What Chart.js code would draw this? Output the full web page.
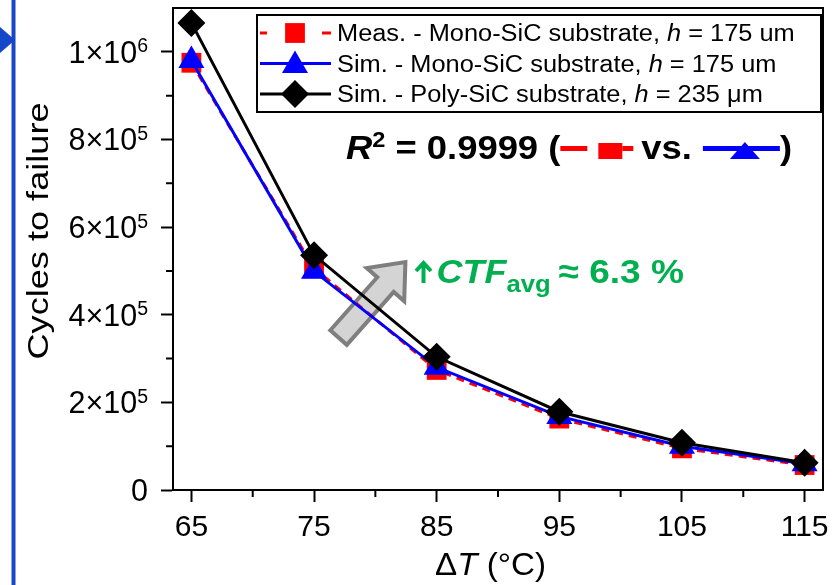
<!DOCTYPE html>
<html>
<head>
<meta charset="utf-8">
<script src="https://cdn.jsdelivr.net/npm/chart.js@4.4.1/dist/chart.umd.min.js"></script>
<style>
  html, body { margin: 0; padding: 0; background: #fff; }
  #wrap { width: 840px; height: 585px; }
</style>
</head>
<body>
<div id="wrap"><canvas id="ctfChart" width="840" height="585"></canvas></div>
<script>
// data
const deltaT = [65, 75, 85, 95, 105, 115];
const measMono = [975000, 506000, 274000, 163000, 95000, 57000];
const simMono = [980000, 499000, 280000, 168000, 100000, 60000];
const simPoly = [1066000, 536000, 304000, 178600, 108000, 62000];

const xTicks = [65, 75, 85, 95, 105, 115];
const xMinor = [70, 80, 90, 100, 110];
const yTicks = [0, 200000, 400000, 600000, 800000, 1000000];
const yTickMant = ['0', '2×10', '4×10', '6×10', '8×10', '1×10'];
const yTickExp = ['', '5', '5', '5', '5', '6'];
const yMinor = [100000, 300000, 500000, 700000, 900000];

const seriesNames = ['Meas. - Mono-SiC substrate, ', 'Sim. - Mono-SiC substrate, ', 'Sim. - Poly-SiC substrate, '];
const thickness = [' = 175 um', ' = 175 um', ' = 235 μm'];
const r2Value = '0.9999';
const ctfGain = '6.3 %';

const FONT = "'Liberation Sans', Arial, Helvetica, sans-serif";
const SX = 1.07; // the figure text is a bit wide
const RED = '#ff0000', BLUE = '#0000ff', BLACK = '#000000', GREEN = '#00b050';

// simple marker shapes for legend keys
function marker(ctx, kind, x, y, r, color) {
  ctx.save();
  ctx.fillStyle = color;
  ctx.beginPath();
  if (kind === 'rect') {
    const s = r * Math.SQRT1_2;
    ctx.rect(x - s, y - s, 2 * s, 2 * s);
  } else if (kind === 'triangle') {
    ctx.moveTo(x, y - r);
    ctx.lineTo(x + r * 0.866, y + r / 2);
    ctx.lineTo(x - r * 0.866, y + r / 2);
    ctx.closePath();
  } else {
    ctx.moveTo(x, y - r);
    ctx.lineTo(x + r, y);
    ctx.lineTo(x, y + r);
    ctx.lineTo(x - r, y);
    ctx.closePath();
  }
  ctx.fill();
  ctx.restore();
}

function hline(ctx, x1, x2, y, w, color, dash) {
  ctx.save();
  ctx.strokeStyle = color;
  ctx.lineWidth = w;
  ctx.setLineDash(dash || []);
  ctx.beginPath();
  ctx.moveTo(x1, y);
  ctx.lineTo(x2, y);
  ctx.stroke();
  ctx.restore();
}

// text runs with mixed fonts, drawn left to right
function drawRuns(ctx, x, y, runs, sx) {
  const k = sx || SX;
  for (const r of runs) {
    if (r.gap) { x += r.gap; continue; }
    if (r.draw) { r.draw(ctx, x, y); x += r.width; continue; }
    ctx.save();
    ctx.font = r.font;
    ctx.fillStyle = r.color || '#000';
    ctx.textBaseline = 'alphabetic';
    ctx.textAlign = 'left';
    ctx.translate(x, y + (r.dy || 0));
    ctx.scale(k, 1);
    ctx.fillText(r.text, 0, 0);
    x += ctx.measureText(r.text).width * k;
    ctx.restore();
  }
  return x;
}

const decor = {
  id: 'decor',
  beforeDatasetsDraw(chart) {
    const { ctx, scales: { x, y } } = chart;
    // grey block arrow under the curves
    const tail = { x: x.getPixelForValue(77.0), y: y.getPixelForValue(348000) };
    const tip = { x: x.getPixelForValue(82.45), y: y.getPixelForValue(520000) };
    const dx = tip.x - tail.x, dy = tip.y - tail.y;
    const len = Math.hypot(dx, dy);
    const ux = dx / len, uy = dy / len, nx = -uy, ny = ux;
    const hw = 11, hh = 25, hl = 30;
    const bx = tip.x - ux * hl, by = tip.y - uy * hl;
    const pts = [
      [tail.x + nx * hw, tail.y + ny * hw],
      [bx + nx * hw, by + ny * hw],
      [bx + nx * hh, by + ny * hh],
      [tip.x, tip.y],
      [bx - nx * hh, by - ny * hh],
      [bx - nx * hw, by - ny * hw],
      [tail.x - nx * hw, tail.y - ny * hw]
    ];
    ctx.save();
    ctx.beginPath();
    pts.forEach((p, i) => i ? ctx.lineTo(p[0], p[1]) : ctx.moveTo(p[0], p[1]));
    ctx.closePath();
    ctx.fillStyle = '#d4d4d4';
    ctx.fill();
    ctx.lineWidth = 4;
    ctx.strokeStyle = '#7f7f7f';
    ctx.stroke();
    ctx.restore();
  },
  afterDraw(chart) {
    const { ctx, chartArea: a, scales: { x, y } } = chart;
    ctx.save();
    // plot frame (top / right)
    ctx.strokeStyle = '#000';
    ctx.lineWidth = 2;
    ctx.strokeRect(a.left, a.top, a.right - a.left, a.bottom - a.top);
    // minor ticks
    ctx.beginPath();
    xMinor.forEach(v => {
      const px = x.getPixelForValue(v);
      ctx.moveTo(px, a.bottom);
      ctx.lineTo(px, a.bottom + 7);
    });
    yMinor.forEach(v => {
      const py = y.getPixelForValue(v);
      ctx.moveTo(a.left, py);
      ctx.lineTo(a.left - 7, py);
    });
    ctx.stroke();

    // y tick labels with real superscripts
    yTicks.forEach((v, i) => {
      const py = y.getPixelForValue(v);
      ctx.fillStyle = '#000';
      ctx.textBaseline = 'alphabetic';
      ctx.textAlign = 'right';
      let right = 148;
      if (yTickExp[i]) {
        ctx.font = `19.5px ${FONT}`;
        ctx.fillText(yTickExp[i], right, py + 0.5);
        right -= ctx.measureText(yTickExp[i]).width;
      }
      ctx.font = `30.5px ${FONT}`;
      ctx.fillText(yTickMant[i], right, py + 11);
    });

    // axis titles
    drawRuns(ctx, 435, 575, [
      { text: 'Δ', font: `31px ${FONT}` },
      { text: 'T', font: `italic 31px ${FONT}` },
      { text: ' (°C)', font: `31px ${FONT}` }
    ]);
    ctx.save();
    ctx.translate(48, 231);
    ctx.rotate(-Math.PI / 2);
    ctx.font = `30px ${FONT}`;
    const tw = ctx.measureText('Cycles to failure').width;
    ctx.scale(257 / tw, 1);
    ctx.textAlign = 'center';
    ctx.textBaseline = 'alphabetic';
    ctx.fillStyle = '#000';
    ctx.fillText('Cycles to failure', 0, 0);
    ctx.restore();

    // legend
    ctx.fillStyle = '#fff';
    ctx.fillRect(257, 15, 564, 97);
    ctx.strokeStyle = '#000';
    ctx.lineWidth = 2;
    ctx.strokeRect(257, 15, 564, 97);
    const rows = [33, 63.5, 94];
    const keys = [
      { color: RED, kind: 'rect', r: 14, dashed: true },
      { color: BLUE, kind: 'triangle', r: 15 },
      { color: BLACK, kind: 'diamond', r: 14 }
    ];
    rows.forEach((ry, i) => {
      const k = keys[i];
      if (k.dashed) {
        hline(ctx, 260, 267, ry, 3, k.color);
        hline(ctx, 322, 331, ry, 3, k.color);
      } else {
        hline(ctx, 260, 331, ry, 3, k.color);
      }
      marker(ctx, k.kind, 295, ry + (k.kind === 'triangle' ? 2 : 0), k.r, k.color);
      drawRuns(ctx, 337, ry + 8, [
        { text: seriesNames[i], font: `23.5px ${FONT}` },
        { text: 'h', font: `italic 23.5px ${FONT}` },
        { text: thickness[i], font: `23.5px ${FONT}` }
      ], 1.08);
    });

    // R^2 note
    const base = 159;
    drawRuns(ctx, 346, base, [
      { text: 'R', font: `italic bold 34px ${FONT}` },
      { text: '2', font: `bold 22px ${FONT}`, dy: -12 },
      { text: ' = ' + r2Value + ' (', font: `bold 34px ${FONT}` },
      { width: 73, draw: (c, px, py) => {
        hline(c, px, px + 27, py - 10.5, 5, RED);
        c.fillStyle = RED;
        c.fillRect(px + 38, py - 16, 24, 16);
        hline(c, px + 62, px + 73, py - 10.5, 5, RED);
      } },
      { gap: 8 },
      { text: 'vs.', font: `bold 34px ${FONT}` },
      { gap: 11 },
      { width: 77, draw: (c, px, py) => {
        hline(c, px, px + 77, py - 10.5, 5, BLUE);
        c.fillStyle = BLUE;
        c.beginPath();
        c.moveTo(px + 42, py - 17);
        c.lineTo(px + 57, py);
        c.lineTo(px + 27, py);
        c.closePath();
        c.fill();
      } },
      { text: ')', font: `bold 34px ${FONT}` }
    ]);

    // CTF gain note
    drawRuns(ctx, 414, 283, [
      { width: 22.5, draw: (c, px, py) => {
        c.save();
        c.strokeStyle = GREEN;
        c.lineWidth = 4;
        c.lineCap = 'butt';
        c.beginPath();
        c.moveTo(px + 9.5, py);
        c.lineTo(px + 9.5, py - 19);
        c.moveTo(px + 2, py - 12);
        c.lineTo(px + 9.5, py - 20);
        c.lineTo(px + 17, py - 12);
        c.stroke();
        c.restore();
      } },
      { text: 'CTF', font: `italic bold 33px ${FONT}`, color: GREEN },
      { text: 'avg', font: `bold 23.5px ${FONT}`, color: GREEN, dy: 8.5 },
      { gap: 8 },
      { text: '≈ ' + ctfGain, font: `bold 34px ${FONT}`, color: GREEN }
    ], 1.09);

    // blue slide bar at the far left
    ctx.fillStyle = '#1547c8';
    ctx.fillRect(11.5, 0, 4, 585);
    ctx.beginPath();
    ctx.moveTo(0, 27);
    ctx.lineTo(15, 40);
    ctx.lineTo(0, 53);
    ctx.closePath();
    ctx.fill();
    ctx.restore();
  }
};

function pts(vals) {
  return deltaT.map((t, i) => ({ x: t, y: vals[i] }));
}

const tickFont = { family: FONT, size: 30 };
const tickGrid = { drawOnChartArea: false, tickLength: 12, tickWidth: 2, tickColor: '#000' };

new Chart(document.getElementById('ctfChart').getContext('2d'), {
  type: 'line',
  data: {
    datasets: [
      {
        label: 'Meas. - Mono-SiC substrate, h = 175 um',
        data: pts(measMono),
        borderColor: RED, backgroundColor: RED,
        borderWidth: 3, borderDash: [8, 6],
        pointStyle: 'rect', pointRadius: 14, pointHoverRadius: 14,
        pointBorderWidth: 0, order: 3, clip: false
      },
      {
        label: 'Sim. - Mono-SiC substrate, h = 175 um',
        data: pts(simMono),
        borderColor: BLUE, backgroundColor: BLUE,
        borderWidth: 3,
        pointStyle: 'triangle', pointRadius: 15, pointHoverRadius: 15,
        pointBorderWidth: 0, order: 2, clip: false
      },
      {
        label: 'Sim. - Poly-SiC substrate, h = 235 μm',
        data: pts(simPoly),
        borderColor: BLACK, backgroundColor: BLACK,
        borderWidth: 3,
        pointStyle: 'rectRot', pointRadius: 14, pointHoverRadius: 14,
        pointBorderWidth: 0, order: 1, clip: false
      }
    ]
  },
  options: {
    responsive: false,
    animation: false,
    layout: { autoPadding: false, padding: { top: 8, right: 17, left: 0, bottom: 0 } },
    plugins: {
      legend: { display: false },
      tooltip: { enabled: false }
    },
    scales: {
      x: {
        type: 'linear',
        min: 63.5,
        max: 116.5,
        afterBuildTicks: s => { s.ticks = xTicks.map(v => ({ value: v })); },
        afterFit: s => { s.height = 95; s.paddingLeft = 0; s.paddingRight = 0; },
        ticks: { color: '#000', font: tickFont, padding: 8, maxRotation: 0 },
        grid: tickGrid,
        border: { display: true, color: '#000', width: 2 }
      },
      y: {
        min: 0,
        max: 1100000,
        afterBuildTicks: s => { s.ticks = yTicks.map(v => ({ value: v })); },
        afterFit: s => { s.width = 173; s.paddingTop = 0; s.paddingBottom = 0; },
        ticks: { display: false },
        grid: tickGrid,
        border: { display: true, color: '#000', width: 2 }
      }
    }
  },
  plugins: [decor]
});
</script>
</body>
</html>
